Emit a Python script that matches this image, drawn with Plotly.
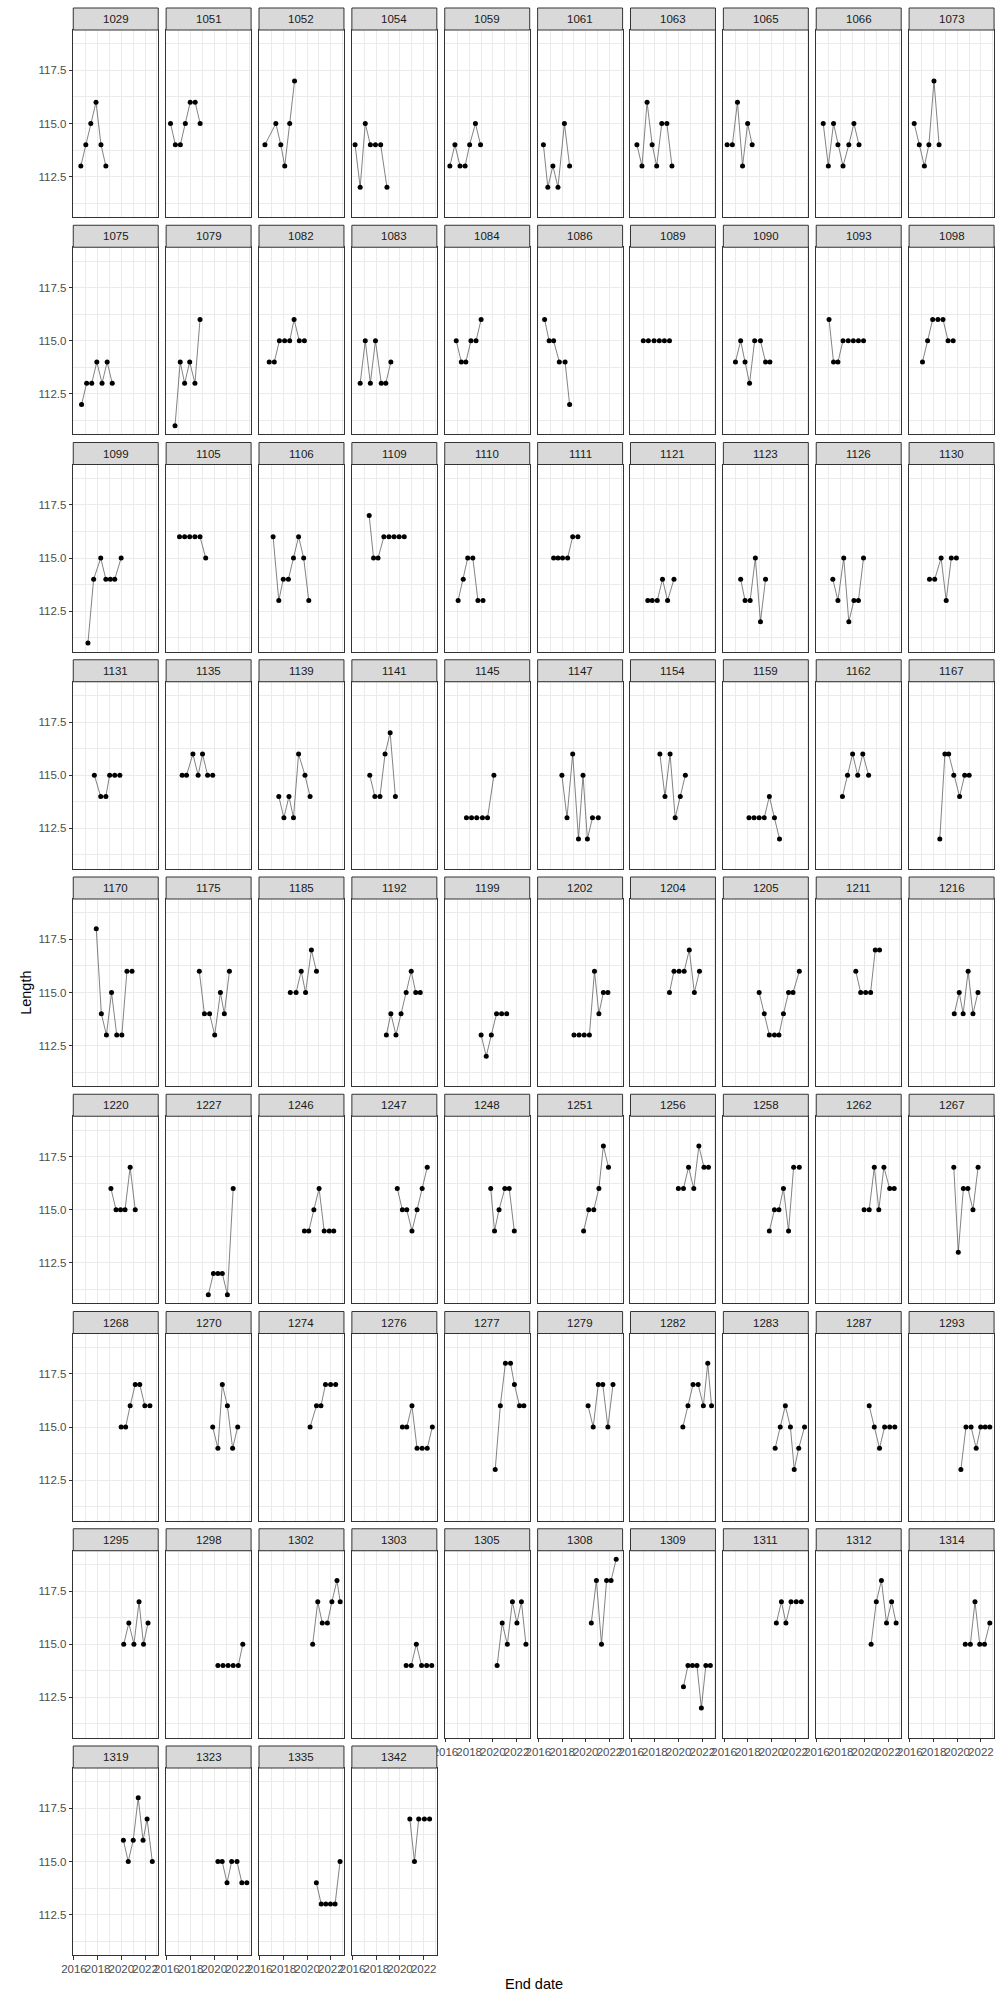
import plotly.graph_objects as go

# ---------------- data ----------------
fish_id = [1029, 1051, 1052, 1054, 1059, 1061, 1063, 1065, 1066, 1073,
           1075, 1079, 1082, 1083, 1084, 1086, 1089, 1090, 1093, 1098,
           1099, 1105, 1106, 1109, 1110, 1111, 1121, 1123, 1126, 1130,
           1131, 1135, 1139, 1141, 1145, 1147, 1154, 1159, 1162, 1167,
           1170, 1175, 1185, 1192, 1199, 1202, 1204, 1205, 1211, 1216,
           1220, 1227, 1246, 1247, 1248, 1251, 1256, 1258, 1262, 1267,
           1268, 1270, 1274, 1276, 1277, 1279, 1282, 1283, 1287, 1293,
           1295, 1298, 1302, 1303, 1305, 1308, 1309, 1311, 1312, 1314,
           1319, 1323, 1335, 1342]

end_date = [
    [2016.58, 2017.00, 2017.42, 2017.86, 2018.28, 2018.69],
    [2016.31, 2016.72, 2017.14, 2017.56, 2017.97, 2018.39, 2018.81],
    [2016.44, 2017.36, 2017.78, 2018.11, 2018.53, 2018.94],
    [2016.21, 2016.64, 2017.07, 2017.50, 2017.93, 2018.37, 2018.90],
    [2016.37, 2016.80, 2017.23, 2017.66, 2018.04, 2018.53, 2018.96],
    [2016.43, 2016.80, 2017.23, 2017.66, 2018.20, 2018.64],
    [2016.48, 2016.91, 2017.34, 2017.77, 2018.15, 2018.58, 2019.01, 2019.44],
    [2016.26, 2016.70, 2017.13, 2017.56, 2017.99, 2018.37],
    [2016.53, 2016.96, 2017.40, 2017.77, 2018.20, 2018.69, 2019.12, 2019.55],
    [2016.37, 2016.80, 2017.23, 2017.61, 2018.04, 2018.47],
    [2016.64, 2017.07, 2017.50, 2017.93, 2018.37, 2018.80, 2019.23],
    [2016.69, 2017.13, 2017.50, 2017.93, 2018.37, 2018.80],
    [2016.80, 2017.23, 2017.66, 2018.10, 2018.53, 2018.90, 2019.34, 2019.77],
    [2016.64, 2017.07, 2017.50, 2017.93, 2018.42, 2018.80, 2019.23],
    [2016.91, 2017.34, 2017.72, 2018.15, 2018.58, 2019.01],
    [2016.53, 2016.91, 2017.29, 2017.77, 2018.26, 2018.64],
    [2017.02, 2017.45, 2017.93, 2018.37, 2018.80, 2019.23],
    [2016.96, 2017.40, 2017.77, 2018.15, 2018.58, 2019.07, 2019.50, 2019.87],
    [2017.02, 2017.40, 2017.77, 2018.20, 2018.64, 2019.07, 2019.50, 2019.93],
    [2017.07, 2017.50, 2017.93, 2018.37, 2018.80, 2019.23, 2019.66],
    [2017.18, 2017.66, 2018.26, 2018.69, 2019.07, 2019.44, 2019.98],
    [2017.07, 2017.50, 2017.93, 2018.37, 2018.80, 2019.28],
    [2017.13, 2017.61, 2017.99, 2018.42, 2018.85, 2019.28, 2019.71, 2020.14],
    [2017.40, 2017.77, 2018.15, 2018.64, 2019.07, 2019.50, 2019.93, 2020.36],
    [2017.07, 2017.50, 2017.88, 2018.31, 2018.74, 2019.17],
    [2017.29, 2017.66, 2018.04, 2018.47, 2018.90, 2019.34],
    [2017.40, 2017.77, 2018.20, 2018.64, 2019.07, 2019.61],
    [2017.40, 2017.77, 2018.20, 2018.64, 2019.07, 2019.50],
    [2017.34, 2017.77, 2018.26, 2018.69, 2019.12, 2019.50, 2019.93],
    [2017.66, 2018.10, 2018.64, 2019.07, 2019.50, 2019.93],
    [2017.72, 2018.26, 2018.69, 2019.01, 2019.44, 2019.87],
    [2017.29, 2017.66, 2018.20, 2018.64, 2019.01, 2019.44, 2019.87],
    [2017.61, 2018.04, 2018.47, 2018.85, 2019.28, 2019.82, 2020.25],
    [2017.45, 2017.88, 2018.31, 2018.74, 2019.17, 2019.61],
    [2017.77, 2018.20, 2018.64, 2019.12, 2019.55, 2020.09],
    [2017.99, 2018.42, 2018.90, 2019.39, 2019.77, 2020.14, 2020.57, 2021.06],
    [2018.42, 2018.85, 2019.28, 2019.71, 2020.14, 2020.57],
    [2018.10, 2018.53, 2018.96, 2019.39, 2019.82, 2020.25, 2020.68],
    [2018.15, 2018.58, 2019.01, 2019.44, 2019.87, 2020.36],
    [2018.53, 2018.96, 2019.28, 2019.71, 2020.20, 2020.63, 2021.01],
    [2017.88, 2018.31, 2018.74, 2019.17, 2019.61, 2020.04, 2020.47, 2020.90],
    [2018.74, 2019.17, 2019.61, 2020.04, 2020.52, 2020.85, 2021.28],
    [2018.58, 2019.07, 2019.50, 2019.87, 2020.36, 2020.79],
    [2018.85, 2019.23, 2019.66, 2020.09, 2020.52, 2020.95, 2021.33, 2021.71],
    [2019.01, 2019.44, 2019.87, 2020.31, 2020.74, 2021.17],
    [2019.01, 2019.44, 2019.87, 2020.31, 2020.74, 2021.11, 2021.49, 2021.87],
    [2019.23, 2019.61, 2020.04, 2020.47, 2020.90, 2021.33, 2021.76],
    [2018.96, 2019.39, 2019.82, 2020.25, 2020.63, 2021.01, 2021.44, 2021.82, 2022.35],
    [2019.28, 2019.69, 2020.11, 2020.53, 2020.92, 2021.28],
    [2019.75, 2020.17, 2020.50, 2020.92, 2021.33, 2021.75],
    [2019.12, 2019.55, 2019.93, 2020.31, 2020.74, 2021.17],
    [2019.50, 2019.93, 2020.31, 2020.68, 2021.11, 2021.60],
    [2019.77, 2020.14, 2020.57, 2021.01, 2021.44, 2021.87, 2022.25],
    [2019.77, 2020.20, 2020.57, 2021.01, 2021.44, 2021.87, 2022.30],
    [2019.82, 2020.14, 2020.52, 2021.01, 2021.38, 2021.81],
    [2019.82, 2020.25, 2020.68, 2021.11, 2021.49, 2021.92],
    [2019.98, 2020.41, 2020.84, 2021.28, 2021.71, 2022.14, 2022.52],
    [2019.82, 2020.25, 2020.63, 2021.01, 2021.44, 2021.87, 2022.35],
    [2019.98, 2020.41, 2020.84, 2021.22, 2021.65, 2022.14, 2022.52],
    [2019.71, 2020.09, 2020.52, 2020.90, 2021.33, 2021.76],
    [2019.98, 2020.36, 2020.74, 2021.17, 2021.55, 2021.98, 2022.41],
    [2019.87, 2020.31, 2020.68, 2021.11, 2021.55, 2021.98],
    [2020.25, 2020.79, 2021.17, 2021.55, 2021.98, 2022.41],
    [2020.20, 2020.57, 2021.01, 2021.44, 2021.87, 2022.30, 2022.73],
    [2020.20, 2020.63, 2021.06, 2021.49, 2021.82, 2022.25, 2022.62],
    [2020.20, 2020.63, 2021.06, 2021.44, 2021.87, 2022.30],
    [2020.36, 2020.79, 2021.22, 2021.65, 2022.09, 2022.46, 2022.78],
    [2020.31, 2020.74, 2021.17, 2021.60, 2021.92, 2022.30, 2022.79],
    [2020.41, 2020.84, 2021.28, 2021.71, 2022.14, 2022.57],
    [2020.31, 2020.74, 2021.17, 2021.60, 2021.98, 2022.36, 2022.75],
    [2020.20, 2020.63, 2021.06, 2021.49, 2021.87, 2022.25],
    [2020.31, 2020.74, 2021.17, 2021.60, 2022.03, 2022.41],
    [2020.47, 2020.90, 2021.28, 2021.71, 2022.09, 2022.52, 2022.79],
    [2020.52, 2020.95, 2021.38, 2021.82, 2022.25, 2022.68],
    [2020.36, 2020.79, 2021.22, 2021.65, 2022.03, 2022.41, 2022.79],
    [2020.47, 2020.90, 2021.33, 2021.76, 2022.14, 2022.57],
    [2020.41, 2020.79, 2021.17, 2021.55, 2021.92, 2022.30, 2022.68],
    [2020.41, 2020.84, 2021.22, 2021.65, 2022.09, 2022.52],
    [2020.57, 2021.01, 2021.44, 2021.87, 2022.30, 2022.68],
    [2020.68, 2021.11, 2021.50, 2021.90, 2022.30, 2022.75],
    [2020.17, 2020.58, 2021.00, 2021.42, 2021.83, 2022.17, 2022.61],
    [2020.31, 2020.67, 2021.08, 2021.47, 2021.92, 2022.33, 2022.75],
    [2020.78, 2021.19, 2021.58, 2021.97, 2022.36, 2022.78],
    [2020.83, 2021.22, 2021.58, 2022.06, 2022.50],
]

length = [
    [113, 114, 115, 116, 114, 113],
    [115, 114, 114, 115, 116, 116, 115],
    [114, 115, 114, 113, 115, 117],
    [114, 112, 115, 114, 114, 114, 112],
    [113, 114, 113, 113, 114, 115, 114],
    [114, 112, 113, 112, 115, 113],
    [114, 113, 116, 114, 113, 115, 115, 113],
    [114, 114, 116, 113, 115, 114],
    [115, 113, 115, 114, 113, 114, 115, 114],
    [115, 114, 113, 114, 117, 114],
    [112, 113, 113, 114, 113, 114, 113],
    [111, 114, 113, 114, 113, 116],
    [114, 114, 115, 115, 115, 116, 115, 115],
    [113, 115, 113, 115, 113, 113, 114],
    [115, 114, 114, 115, 115, 116],
    [116, 115, 115, 114, 114, 112],
    [115, 115, 115, 115, 115, 115],
    [114, 115, 114, 113, 115, 115, 114, 114],
    [116, 114, 114, 115, 115, 115, 115, 115],
    [114, 115, 116, 116, 116, 115, 115],
    [111, 114, 115, 114, 114, 114, 115],
    [116, 116, 116, 116, 116, 115],
    [116, 113, 114, 114, 115, 116, 115, 113],
    [117, 115, 115, 116, 116, 116, 116, 116],
    [113, 114, 115, 115, 113, 113],
    [115, 115, 115, 115, 116, 116],
    [113, 113, 113, 114, 113, 114],
    [114, 113, 113, 115, 112, 114],
    [114, 113, 115, 112, 113, 113, 115],
    [114, 114, 115, 113, 115, 115],
    [115, 114, 114, 115, 115, 115],
    [115, 115, 116, 115, 116, 115, 115],
    [114, 113, 114, 113, 116, 115, 114],
    [115, 114, 114, 116, 117, 114],
    [113, 113, 113, 113, 113, 115],
    [115, 113, 116, 112, 115, 112, 113, 113],
    [116, 114, 116, 113, 114, 115],
    [113, 113, 113, 113, 114, 113, 112],
    [114, 115, 116, 115, 116, 115],
    [112, 116, 116, 115, 114, 115, 115],
    [118, 114, 113, 115, 113, 113, 116, 116],
    [116, 114, 114, 113, 115, 114, 116],
    [115, 115, 116, 115, 117, 116],
    [113, 114, 113, 114, 115, 116, 115, 115],
    [113, 112, 113, 114, 114, 114],
    [113, 113, 113, 113, 116, 114, 115, 115],
    [115, 116, 116, 116, 117, 115, 116],
    [115, 114, 113, 113, 113, 114, 115, 115, 116],
    [116, 115, 115, 115, 117, 117],
    [114, 115, 114, 116, 114, 115],
    [116, 115, 115, 115, 117, 115],
    [111, 112, 112, 112, 111, 116],
    [114, 114, 115, 116, 114, 114, 114],
    [116, 115, 115, 114, 115, 116, 117],
    [116, 114, 115, 116, 116, 114],
    [114, 115, 115, 116, 118, 117],
    [116, 116, 117, 116, 118, 117, 117],
    [114, 115, 115, 116, 114, 117, 117],
    [115, 115, 117, 115, 117, 116, 116],
    [117, 113, 116, 116, 115, 117],
    [115, 115, 116, 117, 117, 116, 116],
    [115, 114, 117, 116, 114, 115],
    [115, 116, 116, 117, 117, 117],
    [115, 115, 116, 114, 114, 114, 115],
    [113, 116, 118, 118, 117, 116, 116],
    [116, 115, 117, 117, 115, 117],
    [115, 116, 117, 117, 116, 118, 116],
    [114, 115, 116, 115, 113, 114, 115],
    [116, 115, 114, 115, 115, 115],
    [113, 115, 115, 114, 115, 115, 115],
    [115, 116, 115, 117, 115, 116],
    [114, 114, 114, 114, 114, 115],
    [115, 117, 116, 116, 117, 118, 117],
    [114, 114, 115, 114, 114, 114],
    [114, 116, 115, 117, 116, 117, 115],
    [116, 118, 115, 118, 118, 119],
    [113, 114, 114, 114, 112, 114, 114],
    [116, 117, 116, 117, 117, 117],
    [115, 117, 118, 116, 117, 116],
    [115, 115, 117, 115, 115, 116],
    [116, 115, 116, 118, 116, 117, 115],
    [115, 115, 114, 115, 115, 114, 114],
    [114, 113, 113, 113, 113, 115],
    [117, 115, 117, 117, 117],
]

x_ticks = [2016, 2018, 2020, 2022]
x_ticktext = ["2016", "2018", "2020", "2022"]
x_minor = [2017, 2019, 2021, 2023]
y_ticks = [112.5, 115.0, 117.5]
y_ticktext = ["112.5", "115.0", "117.5"]
y_minor = [111.25, 113.75, 116.25, 118.75]

# ---------------- layout geometry (pixels) ----------------
W, H = 1000, 2000
NCOL = 10
COL_LEFT0, COL_PITCH, PANEL_W = 62, 94, 86
ROW_TOP0, ROW_PITCH, STRIP_H, PANEL_BOTTOM = 8, 217.25, 22, 209
X_RANGE = [2015.94, 2023.11]
Y_RANGE = [110.6, 119.4]
FONT = "Liberation Sans, Arial, sans-serif"
GRID = "#EBEBEB"
DARK = "#333333"

n = len(fish_id)

fig = go.Figure()
shapes = []
annotations = []

for i, fid in enumerate(fish_id):
    r, c = divmod(i, NCOL)
    x0 = COL_LEFT0 + COL_PITCH * c
    x1 = x0 + PANEL_W
    top = ROW_TOP0 + ROW_PITCH * r
    ptop = top + STRIP_H
    pbot = top + PANEL_BOTTOM
    suffix = "" if i == 0 else str(i + 1)
    xa, ya = "xaxis" + suffix, "yaxis" + suffix

    bottom_in_col = (i + NCOL) >= n
    left_col = c == 0

    fig.add_trace(go.Scatter(
        x=end_date[i], y=length[i], mode="lines+markers",
        line=dict(color="#4d4d4d", width=0.7),
        marker=dict(color="black", size=5),
        xaxis="x" + suffix, yaxis="y" + suffix, showlegend=False,
        hoverinfo="x+y"))

    fig.layout[xa] = dict(
        domain=[x0 / W, x1 / W], anchor="y" + suffix, range=X_RANGE,
        tickvals=x_ticks, ticktext=x_ticktext, tickangle=0,
        showticklabels=bottom_in_col, ticks="outside" if bottom_in_col else "",
        ticklen=3.5, tickcolor=DARK, tickwidth=1,
        tickfont=dict(family=FONT, size=11.5, color="#4D4D4D"),
        showgrid=True, gridcolor=GRID, gridwidth=1.1,
        minor=dict(tickvals=x_minor, showgrid=True, gridcolor=GRID, gridwidth=0.55, ticks=""),
        showline=True, mirror=True, linecolor=DARK, linewidth=1,
        zeroline=False, fixedrange=True)
    fig.layout[ya] = dict(
        domain=[1 - pbot / H, 1 - ptop / H], anchor="x" + suffix, range=Y_RANGE,
        tickvals=y_ticks, ticktext=y_ticktext,
        showticklabels=left_col, ticks="outside" if left_col else "",
        ticklen=3.5, tickcolor=DARK, tickwidth=1,
        tickfont=dict(family=FONT, size=11.5, color="#4D4D4D"),
        showgrid=True, gridcolor=GRID, gridwidth=1.1,
        minor=dict(tickvals=y_minor, showgrid=True, gridcolor=GRID, gridwidth=0.55, ticks=""),
        showline=True, mirror=True, linecolor=DARK, linewidth=1,
        zeroline=False, fixedrange=True)

    # strip
    shapes.append(dict(type="rect", xref="paper", yref="paper",
                       x0=x0 / W, x1=x1 / W, y0=1 - ptop / H, y1=1 - top / H,
                       fillcolor="#D9D9D9", line=dict(color=DARK, width=1), layer="above"))
    annotations.append(dict(text=str(fid), xref="paper", yref="paper",
                            x=(x0 + x1) / 2 / W, y=1 - (top + ptop) / 2 / H,
                            showarrow=False, xanchor="center", yanchor="middle",
                            font=dict(family=FONT, size=11.5, color="#1A1A1A")))

annotations.append(dict(text="Length", xref="paper", yref="paper",
                        x=14 / W, y=1 - 993 / H, textangle=-90, showarrow=False,
                        xanchor="center", yanchor="middle",
                        font=dict(family=FONT, size=14.5, color="black")))
annotations.append(dict(text="End date", xref="paper", yref="paper",
                        x=528 / W, y=1 - 1984 / H, showarrow=False,
                        xanchor="center", yanchor="middle",
                        font=dict(family=FONT, size=14.5, color="black")))

fig.update_layout(
    width=W, height=H, margin=dict(l=0, r=0, t=0, b=0),
    paper_bgcolor="white", plot_bgcolor="white",
    shapes=shapes, annotations=annotations, showlegend=False,
    font=dict(family=FONT))

fig.write_html("out.html", config={"displayModeBar": False})
